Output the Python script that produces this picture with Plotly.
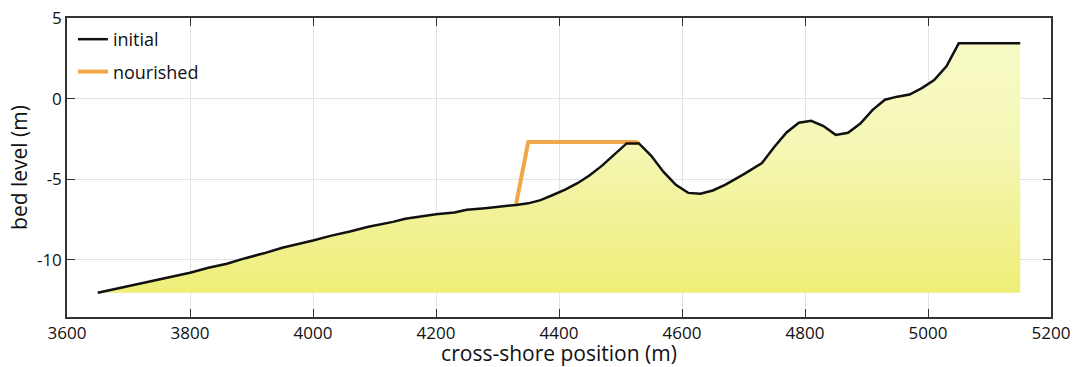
import plotly.graph_objects as go

# Initial bed profile
x_initial = [3650, 3680, 3720, 3760, 3800, 3830, 3860, 3890, 3920, 3950, 3980, 4000,
             4030, 4060, 4090, 4110, 4130, 4150, 4180, 4200, 4230, 4250, 4280, 4310,
             4330, 4350, 4370, 4390, 4410, 4430, 4450, 4470, 4490, 4510, 4530, 4550,
             4570, 4590, 4610, 4630, 4650, 4670, 4700, 4730, 4750, 4770, 4790, 4810,
             4830, 4850, 4870, 4890, 4910, 4930, 4950, 4970, 4990, 5010, 5030, 5050, 5150]
y_initial = [-12.05, -11.8, -11.5, -11.15, -10.8, -10.5, -10.25, -9.9, -9.6, -9.25, -9.0, -8.8,
             -8.5, -8.25, -7.95, -7.8, -7.65, -7.45, -7.3, -7.17, -7.07, -6.9, -6.8, -6.7,
             -6.6, -6.5, -6.3, -5.98, -5.65, -5.25, -4.76, -4.16, -3.45, -2.78, -2.78, -3.55,
             -4.55, -5.35, -5.85, -5.9, -5.7, -5.35, -4.7, -4.0, -3.0, -2.1, -1.5, -1.38,
             -1.7, -2.25, -2.12, -1.55, -0.7, -0.07, 0.12, 0.25, 0.65, 1.15, 2.0, 3.43, 3.43]

# Nourished profile (only where it differs)
x_nourished = [4330, 4350, 4525, 4530]
y_nourished = [-6.6, -2.7, -2.7, -2.78]

# Fill base level
fill_base = -12.05

# Tick labels
x_tickvals = [3600, 3800, 4000, 4200, 4400, 4600, 4800, 5000, 5200]
x_ticktext = ["3600", "3800", "4000", "4200", "4400", "4600", "4800", "5000", "5200"]
y_tickvals = [5, 0, -5, -10]
y_ticktext = ["5", "0", "-5", "-10"]

fill_x = x_initial + [x_initial[-1], x_initial[0]]
fill_y = y_initial + [fill_base, fill_base]

fig = go.Figure()

fig.add_trace(go.Scatter(
    x=fill_x, y=fill_y, mode="none", fill="toself",
    fillgradient=dict(type="vertical",
                      colorscale=[[0, "#eeee78"], [0.35, "#f2f39c"], [0.6, "#f5f7b6"], [1, "#f8fac6"]]),
    showlegend=False, hoverinfo="skip"))

fig.add_trace(go.Scatter(
    x=x_nourished, y=y_nourished, mode="lines", name="nourished",
    line=dict(color="#eea847", width=4), legendrank=2, legendgroup="b"))

fig.add_trace(go.Scatter(
    x=x_initial, y=y_initial, mode="lines", name="initial",
    line=dict(color="#111111", width=2.5), legendrank=1, legendgroup="a"))

font_family = "Open Sans"

fig.update_layout(
    width=1074, height=367,
    margin=dict(l=67, r=23, t=18, b=50, autoexpand=False),
    plot_bgcolor="white", paper_bgcolor="white",
    font=dict(family=font_family, size=17, color="#111111"),
    legend=dict(x=0.006, y=0.99, xanchor="left", yanchor="top",
                bgcolor="rgba(0,0,0,0)", font=dict(size=18), itemwidth=30,
                tracegroupgap=6),
    showlegend=True,
)

fig.update_xaxes(
    range=[3600, 5200], tickvals=x_tickvals, ticktext=x_ticktext,
    showgrid=True, gridcolor="#e3e3e3", gridwidth=1,
    showline=True, linecolor="#333333", linewidth=1.5, mirror="ticks",
    ticks="inside", ticklen=8, tickcolor="#333333",
    zeroline=False, automargin=False, ticklabeloverflow="allow",
    title=dict(text="cross-shore position (m)", font=dict(size=21), standoff=4),
    tickfont=dict(size=17),
)
fig.update_yaxes(
    range=[-13.55, 5], tickvals=y_tickvals, ticktext=y_ticktext,
    showgrid=True, gridcolor="#e3e3e3", gridwidth=1,
    showline=True, linecolor="#333333", linewidth=1.5, mirror="ticks",
    ticks="inside", ticklen=8, tickcolor="#333333",
    zeroline=False, automargin=False, ticklabeloverflow="allow",
    title=dict(text="bed level (m)", font=dict(size=21), standoff=4),
    tickfont=dict(size=17),
)

fig.write_html("out.html",
               config={"displayModeBar": False},
               post_script="document.body.style.margin='0';document.body.style.overflow='hidden';")
